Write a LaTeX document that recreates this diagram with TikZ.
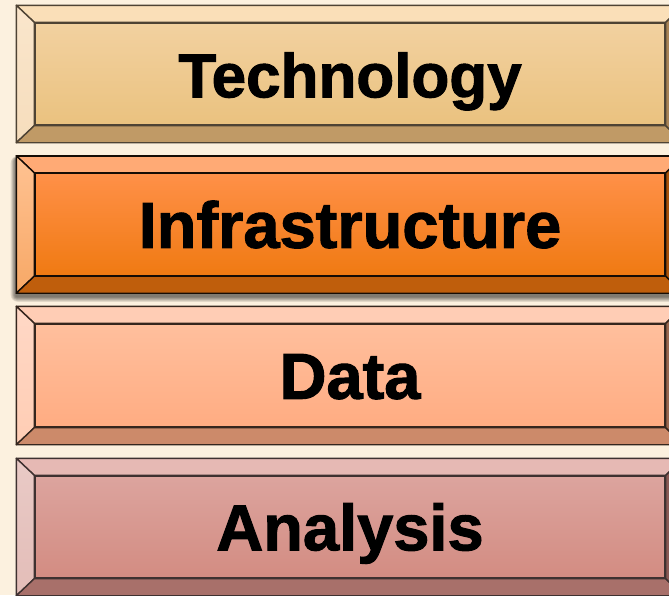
\documentclass[tikz,border=0pt]{standalone}
\usepackage{fontspec}
\setmainfont{Liberation Sans}[BoldFeatures={FakeBold=1.6}]
\usetikzlibrary{calc}
\pgfdeclarelayer{back}
\pgfdeclarelayer{shade}
\pgfsetlayers{back,shade,main}
\definecolor{bg}{HTML}{FCF1DF}
% Technology
\definecolor{tA}{HTML}{FADFB8}\definecolor{tL1}{HTML}{FAE6CC}\definecolor{tL2}{HTML}{F6DDBC}
\definecolor{tF1}{HTML}{F2D1A0}\definecolor{tF2}{HTML}{EAC27F}\definecolor{tB}{HTML}{C09A66}
\definecolor{tR}{HTML}{A98457}\definecolor{tD}{HTML}{4E4334}
% Infrastructure
\definecolor{iA}{HTML}{FFAA75}\definecolor{iL1}{HTML}{FFC292}\definecolor{iL2}{HTML}{F7A866}
\definecolor{iF1}{HTML}{FF9048}\definecolor{iF2}{HTML}{F07A12}\definecolor{iB}{HTML}{BF5E0C}
\definecolor{iR}{HTML}{A8520A}\definecolor{iD}{HTML}{150C05}
% Data
\definecolor{dA}{HTML}{FFCDB5}\definecolor{dL1}{HTML}{FFD8C6}\definecolor{dL2}{HTML}{FFCDB4}
\definecolor{dF1}{HTML}{FFBF9D}\definecolor{dF2}{HTML}{FFAC82}\definecolor{dB}{HTML}{CC8A6A}
\definecolor{dR}{HTML}{9A6850}\definecolor{dD}{HTML}{35261E}
% Analysis
\definecolor{aA}{HTML}{E6B9B4}\definecolor{aL1}{HTML}{E9CAC6}\definecolor{aL2}{HTML}{E3BDB8}
\definecolor{aF1}{HTML}{DCA49E}\definecolor{aF2}{HTML}{D38C82}\definecolor{aB}{HTML}{A8706A}
\definecolor{aR}{HTML}{8A5A55}\definecolor{aD}{HTML}{3E3130}
\tikzset{
  face/.style={minimum width=630pt, minimum height=102pt, inner sep=0pt,
    line width=1.4pt, font=\fontsize{65}{70}\selectfont\bfseries,
    text height=46.5pt, text depth=0pt, text=black},
  bevelline/.style={line width=1.4pt, line join=round},
  shadowpiece/.style={fill=black, opacity=0.09}
}
\newcommand\bevelframe[8]{%
  \coordinate (#1-a) at ($(#1.north west)+(-18,-17)$);
  \coordinate (#1-b) at ($(#1.north east)+(18,-17)$);
  \coordinate (#1-c) at ($(#1.south east)+(18,17)$);
  \coordinate (#1-d) at ($(#1.south west)+(-18,17)$);
  \path[bevelline, fill=#3, draw=#2] (#1-a) -- (#1-b) -- (#1.north east) -- (#1.north west) -- cycle;
  \path[bevelline, top color=#4, bottom color=#5, draw=#2] (#1-a) -- (#1.north west) -- (#1.south west) -- (#1-d) -- cycle;
  \path[bevelline, fill=#6, draw=#2] (#1-d) -- (#1.south west) -- (#1.south east) -- (#1-c) -- cycle;
  \path[bevelline, fill=#7, draw=#2] (#1-b) -- (#1-c) -- (#1.south east) -- (#1.north east) -- cycle;
  \draw[bevelline, draw=#2] (#1.north west) rectangle (#1.south east);
  \draw[bevelline, draw=#2] (#1-a) -- (#1-b) -- (#1-c) -- (#1-d) -- cycle;
  \node[face, draw=none] (#1-t) at (#1.center) {#8};
}
\begin{document}
\begin{tikzpicture}[x=1pt, y=-1pt]
\useasboundingbox (0,0) rectangle (669,595);
\begin{pgfonlayer}{back}
\fill[bg] (0,0) rectangle (669,595);
\end{pgfonlayer}
\clip (0,0) rectangle (669,595);

% Technology
\node[face, draw=tD, top color=tF1, bottom color=tF2] (tech) at (350,74) {};
\bevelframe{tech}{tD}{tA}{tL1}{tL2}{tB}{tR}{\fontsize{62}{66}\selectfont\bfseries Technology}

% Infrastructure
\node[face, draw=iD, top color=iF1, bottom color=iF2] (infra) at (350,224.5) {};
\begin{pgfonlayer}{shade}
\foreach \r in {1,2,...,7}{
  \fill[shadowpiece, rounded corners=\r pt]
    ($(infra.north west)+(-18-\r*0.8,-17+3-\r*0.4)$) rectangle ($(infra.south east)+(18+\r*0.8,17+3+\r*0.8)$);
}
\end{pgfonlayer}
\bevelframe{infra}{iD}{iA}{iL1}{iL2}{iB}{iR}{Infrastructure}

% Data
\node[face, minimum height=103pt, draw=dD, top color=dF1, bottom color=dF2] (data) at (350,375.5) {};
\bevelframe{data}{dD}{dA}{dL1}{dL2}{dB}{dR}{Data}

% Analysis
\node[face, draw=aD, top color=aF1, bottom color=aF2] (anal) at (350,527) {};
\bevelframe{anal}{aD}{aA}{aL1}{aL2}{aB}{aR}{Analysis}
\end{tikzpicture}
\end{document}
